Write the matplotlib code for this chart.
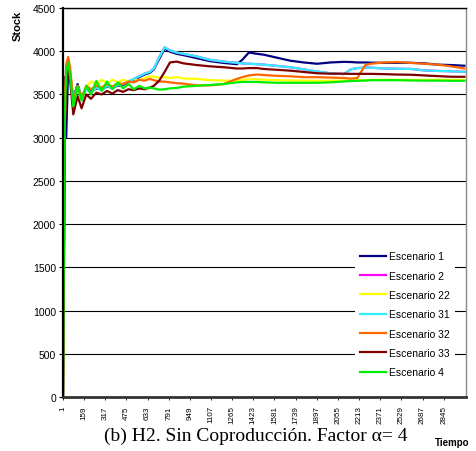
import matplotlib
matplotlib.use("Agg")
import matplotlib.pyplot as plt

# ---- data ----
tiempo = [1, 8, 15, 25, 40, 55, 78, 110, 140, 175,
          210, 250, 290, 330, 370, 410, 450, 490, 530, 570,
          610, 650, 680, 720, 760, 800, 850, 900, 1000, 1100,
          1200, 1300, 1340, 1390, 1450, 1500, 1600, 1700, 1800, 1900,
          2000, 2100, 2150, 2200, 2260, 2300, 2400, 2500, 2600, 2700,
          2800, 2900, 3000]

escenario_1 = [0, 2500, 3700, 3000, 3850, 3700, 3450, 3620, 3450, 3580,
               3530, 3570, 3560, 3590, 3580, 3600, 3610, 3640, 3670, 3700,
               3730, 3750, 3790, 3910, 4030, 3995, 3970, 3955, 3920, 3885,
               3865, 3850, 3900, 3985, 3970, 3960, 3925, 3890, 3870, 3855,
               3870, 3877, 3875, 3870, 3870, 3868, 3866, 3866, 3866, 3860,
               3845, 3840, 3832]

escenario_2 = [0, 1500, 3300, 3650, 3800, 3700, 3450, 3600, 3480, 3560,
               3520, 3580, 3550, 3600, 3570, 3610, 3620, 3650, 3680, 3710,
               3740, 3760, 3800, 3930, 4045, 4010, 3985, 3970, 3940, 3900,
               3880, 3866, 3860, 3855, 3850, 3845, 3830, 3815, 3790, 3765,
               3745, 3735, 3790, 3805, 3810, 3810, 3800, 3797, 3795, 3778,
               3772, 3768, 3762]

escenario_22 = [0, 1700, 3200, 3700, 3850, 3750, 3400, 3580, 3450, 3580,
                3650, 3620, 3670, 3630, 3670, 3640, 3670, 3650, 3680, 3660,
                3690, 3710, 3705, 3695, 3700, 3690, 3700, 3685, 3680, 3665,
                3660, 3658, 3665, 3680, 3675, 3670, 3665, 3662, 3660, 3658,
                3658, 3660, 3662, 3665, 3665, 3668, 3670, 3670, 3668, 3668,
                3670, 3668, 3668]

escenario_31 = [0, 1500, 3300, 3650, 3800, 3700, 3450, 3600, 3480, 3560,
                3520, 3580, 3550, 3600, 3570, 3610, 3620, 3650, 3680, 3710,
                3740, 3760, 3800, 3930, 4045, 4010, 3985, 3970, 3940, 3900,
                3880, 3866, 3860, 3855, 3850, 3845, 3830, 3815, 3790, 3765,
                3745, 3735, 3790, 3805, 3810, 3810, 3800, 3797, 3795, 3778,
                3772, 3768, 3762]

escenario_32 = [0, 1900, 3500, 3850, 3935, 3800, 3420, 3600, 3460, 3600,
                3560, 3600, 3580, 3620, 3590, 3630, 3620, 3650, 3640, 3670,
                3660, 3680, 3665, 3650, 3648, 3640, 3630, 3625, 3605, 3605,
                3620, 3680, 3700, 3720, 3730, 3725, 3715, 3710, 3700, 3700,
                3695, 3690, 3683, 3690, 3840, 3855, 3870, 3875, 3865, 3855,
                3845, 3825, 3800]

escenario_33 = [0, 1500, 3100, 3600, 3800, 3650, 3270, 3480, 3340, 3500,
                3450, 3520, 3500, 3540, 3510, 3550, 3530, 3560, 3550, 3570,
                3560, 3580, 3600, 3660, 3760, 3870, 3880, 3860, 3840, 3825,
                3815, 3800, 3800, 3805, 3805, 3795, 3785, 3775, 3760, 3745,
                3740, 3740, 3738, 3738, 3738, 3738, 3735, 3730, 3728, 3720,
                3712, 3705, 3704]

escenario_4 = [0, 1800, 3300, 3750, 3870, 3700, 3360, 3590, 3430, 3600,
               3500, 3655, 3540, 3650, 3560, 3640, 3570, 3620, 3560, 3600,
               3570, 3580, 3570, 3555, 3560, 3570, 3575, 3590, 3600, 3610,
               3620, 3640, 3645, 3645, 3645, 3640, 3635, 3635, 3635, 3635,
               3640, 3650, 3655, 3658, 3660, 3665, 3665, 3665, 3662, 3660,
               3660, 3658, 3658]

series_names = ["Escenario 1", "Escenario 2", "Escenario 22", "Escenario 31",
                "Escenario 32", "Escenario 33", "Escenario 4"]
series_values = [escenario_1, escenario_2, escenario_22, escenario_31,
                 escenario_32, escenario_33, escenario_4]
series_colors = ["#000080", "#FF00FF", "#FFFF00", "#33EEFF",
                 "#FF6600", "#800000", "#00EE00"]

x_tick_labels = [1, 159, 317, 475, 633, 791, 949, 1107, 1265, 1423, 1581,
                 1739, 1897, 2055, 2213, 2371, 2529, 2687, 2845]
y_ticks = [0, 500, 1000, 1500, 2000, 2500, 3000, 3500, 4000, 4500]

# ---- figure ----
W, H = 476, 452
fig = plt.figure(figsize=(W / 100, H / 100), dpi=100)
ax = fig.add_axes([63 / W, 1 - 398 / H, (466 - 63) / W, (398 - 9) / H])

for name, vals, col in zip(series_names, series_values, series_colors):
    ax.plot(tiempo, vals, color=col, lw=1.6, label=name, solid_joinstyle="round")

ax.set_xlim(1, 3012)
ax.set_ylim(0, 4500)
ax.set_yticks(y_ticks)
ax.set_xticks(x_tick_labels)
ax.set_xticklabels([str(v) for v in x_tick_labels], rotation=90,
                   fontsize=5.8, family="Liberation Sans")
ax.set_yticklabels([str(v) for v in y_ticks], fontsize=7.5,
                   family="Liberation Sans")
ax.tick_params(axis="y", direction="out", length=3, width=0.8, pad=2)
ax.tick_params(axis="x", direction="out", length=2, width=0.6, pad=4)

ax.yaxis.grid(True, color="black", lw=0.8)
ax.set_axisbelow(True)

ax.spines["left"].set_linewidth(1.6)
ax.spines["left"].set_color("black")
ax.spines["bottom"].set_linewidth(2.0)
ax.spines["bottom"].set_color("#333333")
ax.spines["top"].set_linewidth(1.0)
ax.spines["top"].set_color("black")
ax.spines["right"].set_linewidth(1.0)
ax.spines["right"].set_color("#888888")

leg = ax.legend(loc="upper left", bbox_to_anchor=((355 - 63) / 403, (398 - 247) / 389),
                frameon=True, fancybox=False, facecolor="white", edgecolor="none",
                framealpha=1.0, prop={"family": "Liberation Sans", "size": 7.5},
                handlelength=2.5, handletextpad=0.3, labelspacing=0.9,
                borderpad=0.5, borderaxespad=0.0)

fig.text(256 / W, 1 - 436 / H, "(b) H2. Sin Coproducción. Factor α= 4",
         family="Liberation Serif", fontsize=14, ha="center", va="center")
fig.text(452 / W, 1 - 443 / H, "Tiempo", family="Liberation Sans",
         fontweight="bold", fontsize=7, ha="center", va="center")
fig.text(18 / W, 1 - 26 / H, "Stock", family="Liberation Sans",
         fontweight="bold", fontsize=8, rotation=90, ha="center", va="center")

fig.savefig("out.png", dpi=100, facecolor="white")
